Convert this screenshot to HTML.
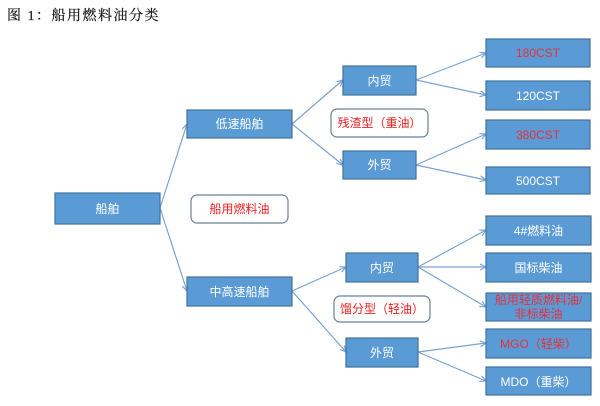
<!DOCTYPE html>
<html><head><meta charset="utf-8"><style>
html,body{margin:0;padding:0;background:#fff;}
body{width:600px;height:406px;overflow:hidden;position:relative;}
svg{position:absolute;left:0;top:0;}
.b{fill:#5b9bd5;stroke:#41719c;stroke-width:1.2;}
.r{fill:#fff;stroke:#6b7f95;stroke-width:1.2;}
.t{font-family:"Liberation Sans","Noto Sans CJK SC",sans-serif;font-size:12px;fill:#fff;text-anchor:middle;}
.red{fill:#e8303a;}
.rt{font-family:"Liberation Sans","Noto Sans CJK SC",sans-serif;font-size:12px;fill:#f01e1e;text-anchor:middle;}
.l{stroke:#7aa3d2;stroke-width:1.2;fill:none;}
</style></head><body>
<svg width="600" height="406" viewBox="0 0 600 406" xmlns="http://www.w3.org/2000/svg">
<defs>
<marker id="a" markerWidth="8" markerHeight="8" refX="7" refY="4" orient="auto" markerUnits="userSpaceOnUse">
<path d="M1,1 L7,4 L1,7" fill="none" stroke="#7aa3d2" stroke-width="1.2"/>
</marker>
</defs>
<text x="7" y="20" font-family="'Liberation Serif','Noto Serif CJK SC',serif" font-size="14" letter-spacing="1.5" fill="#111" stroke="#111" stroke-width="0.2">图 1：船用燃料油分类</text>

<!-- connectors -->
<g class="l" marker-end="url(#a)">
<line x1="160" y1="208" x2="187" y2="124"/>
<line x1="160" y1="208" x2="187" y2="291"/>
<line x1="292" y1="124" x2="343" y2="80"/>
<line x1="292" y1="124" x2="343" y2="165"/>
<line x1="416" y1="80" x2="486" y2="53"/>
<line x1="416" y1="80" x2="486" y2="95"/>
<line x1="416" y1="165" x2="486" y2="134"/>
<line x1="416" y1="165" x2="486" y2="180"/>
<line x1="292" y1="291" x2="346" y2="267"/>
<line x1="292" y1="291" x2="346" y2="352"/>
<line x1="418" y1="267" x2="486" y2="230"/>
<line x1="418" y1="267" x2="486" y2="267"/>
<line x1="418" y1="267" x2="486" y2="307"/>
<line x1="418" y1="352" x2="486" y2="343"/>
<line x1="418" y1="352" x2="486" y2="381"/>
</g>

<!-- boxes -->
<rect class="b" x="55" y="193" width="105" height="31"/>
<text class="t" x="107.5" y="213">船舶</text>

<rect class="b" x="187" y="110" width="105" height="28"/>
<text class="t" x="239.5" y="128">低速船舶</text>

<rect class="b" x="187" y="277" width="105" height="29"/>
<text class="t" x="239.5" y="296">中高速船舶</text>

<rect class="r" x="191" y="195" width="97" height="28" rx="6"/>
<text class="rt" x="239.5" y="213">船用燃料油</text>

<rect class="b" x="343" y="66" width="73" height="29"/>
<text class="t" x="379.5" y="85">内贸</text>
<rect class="b" x="343" y="151" width="73" height="28"/>
<text class="t" x="379.5" y="169">外贸</text>
<rect class="r" x="331" y="109" width="97" height="28" rx="6"/>
<text class="rt" x="379.5" y="127">残渣型（重油）</text>

<rect class="b" x="486" y="39" width="104" height="28"/>
<text class="t red" x="538" y="57">180CST</text>
<rect class="b" x="486" y="81" width="104" height="29"/>
<text class="t" x="538" y="100">120CST</text>
<rect class="b" x="486" y="120" width="104" height="29"/>
<text class="t red" x="538" y="139">380CST</text>
<rect class="b" x="486" y="167" width="104" height="27"/>
<text class="t" x="538" y="185">500CST</text>

<rect class="b" x="346" y="253" width="72" height="29"/>
<text class="t" x="382" y="272">内贸</text>
<rect class="b" x="346" y="338" width="72" height="29"/>
<text class="t" x="382" y="357">外贸</text>
<rect class="r" x="334" y="296" width="96" height="26" rx="6"/>
<text class="rt" x="382" y="313">馏分型（轻油）</text>

<rect class="b" x="486" y="216" width="105" height="29"/>
<text class="t" x="538.5" y="235">4#燃料油</text>
<rect class="b" x="486" y="253" width="105" height="29"/>
<text class="t" x="538.5" y="272">国标柴油</text>
<rect class="b" x="486" y="293" width="105" height="28"/>
<text class="t red" x="538.5" y="304">船用轻质燃料油/</text>
<text class="t red" x="538.5" y="318">非标柴油</text>
<rect class="b" x="486" y="329" width="105" height="29"/>
<text class="t red" x="538.5" y="348">MGO（轻柴）</text>
<rect class="b" x="486" y="367" width="105" height="28"/>
<text class="t" x="538.5" y="386">MDO（重柴）</text>
</svg>
</body></html>
